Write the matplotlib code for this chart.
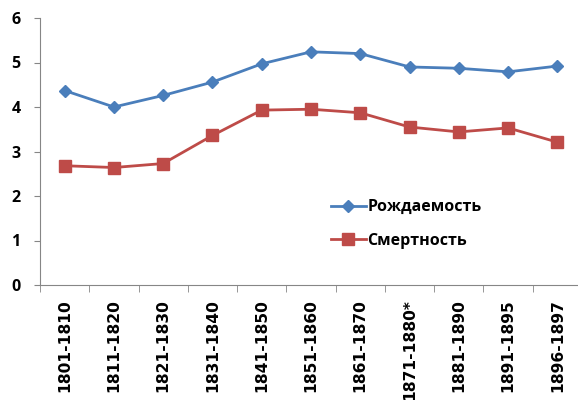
import matplotlib
matplotlib.use('Agg')
import matplotlib.pyplot as plt
import numpy as np

periods = ['1801-1810', '1811-1820', '1821-1830', '1831-1840', '1841-1850',
           '1851-1860', '1861-1870', '1871-1880*', '1881-1890', '1891-1895',
           '1896-1897']
births = [4.37, 4.0, 4.26, 4.56, 4.97, 5.24, 5.2, 4.9, 4.87, 4.79, 4.92]
deaths = [2.68, 2.64, 2.73, 3.36, 3.93, 3.95, 3.87, 3.55, 3.44, 3.53, 3.21]

plt.rcParams['font.family'] = ['Open Sans', 'DejaVu Sans']

fig = plt.figure(figsize=(5.78, 4.0), dpi=100)
fig.patch.set_facecolor('white')
ax = fig.add_axes([40/578, 115/400, 542/578, 267/400])

x = np.arange(len(periods))
ax.plot(x, births, color='#4A7EBB', marker='D', markersize=6, linewidth=2.0,
        label='Рождаемость')
ax.plot(x, deaths, color='#BE4B48', marker='s', markersize=8, linewidth=2.0,
        label='Смертность')

ax.set_xlim(-0.5, len(periods) - 0.5)
ax.set_ylim(0, 6)
ax.set_yticks(range(0, 7))
ax.set_xticks(x)
ax.set_xticklabels(periods, rotation=90, fontsize=11.2, family='DejaVu Sans',
                   fontweight='bold')
ax.set_xticks(np.arange(-0.5, len(periods), 1), minor=True)
ax.tick_params(axis='x', which='major', length=0, pad=10)
ax.tick_params(axis='x', which='minor', length=5, direction='out', color='#868686')
ax.tick_params(axis='y', length=4, direction='out', color='#868686',
               labelsize=11.5, pad=10)
for lbl in ax.get_yticklabels():
    lbl.set_fontweight('bold')

for s in ['top', 'right']:
    ax.spines[s].set_visible(False)
for s in ['left', 'bottom']:
    ax.spines[s].set_color('#868686')

leg = ax.legend(loc='upper left', bbox_to_anchor=(0.51, 0.375), frameon=False,
                prop={'size': 11.5, 'weight': 'bold'}, handlelength=2.2,
                handletextpad=0.1, labelspacing=1.1)

fig.savefig('out.png', dpi=100)
